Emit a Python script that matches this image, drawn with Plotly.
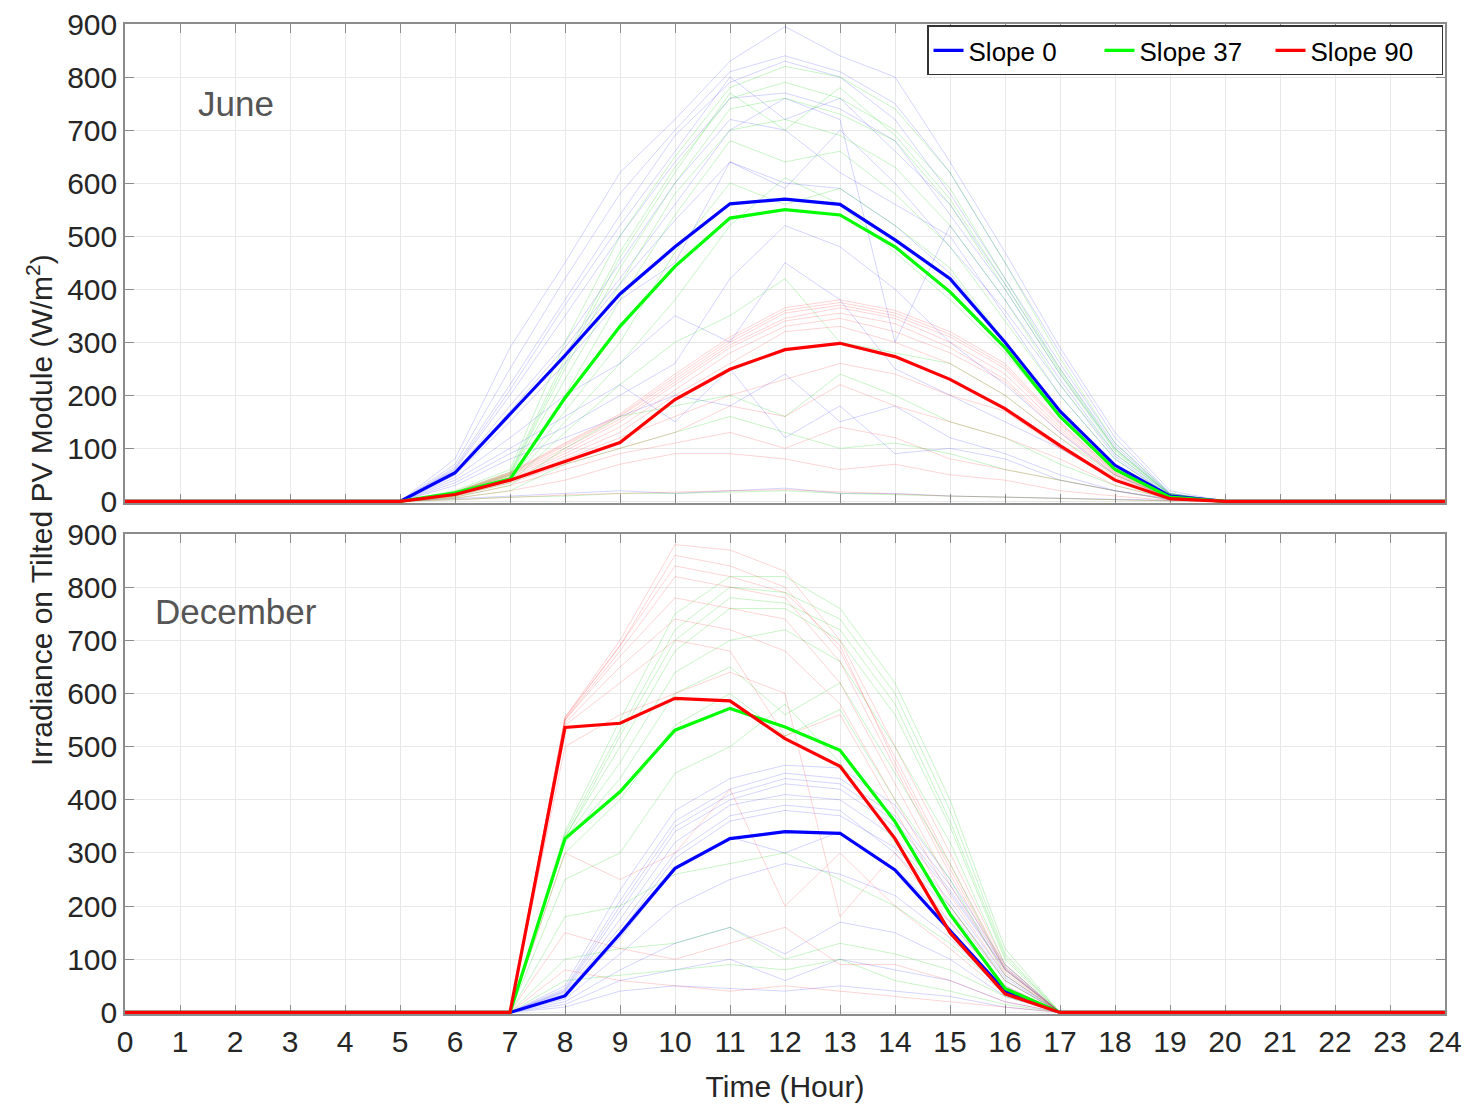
import plotly.graph_objects as go

# ---------------- data ----------------
hours = list(range(0, 25))
tick_labels = [str(h) for h in hours]

# June, hours 5..20 (zero elsewhere)
june_hours = list(range(5, 21))
june_mean_s0 = [0, 54, 165, 275, 391, 480, 561, 570, 560, 493, 420, 300, 170, 68, 10, 0]
june_mean_s37 = [0, 16, 42, 195, 330, 443, 534, 550, 540, 480, 395, 290, 160, 60, 8, 0]
june_mean_s90 = [0, 13, 40, 75, 111, 192, 249, 286, 298, 273, 230, 175, 105, 40, 5, 0]

june_days_s0 = [
    [0, 80, 290, 450, 620, 720, 830, 895, 840, 800, 640, 470, 290, 130, 20, 0],
    [0, 70, 250, 420, 580, 700, 810, 840, 810, 750, 620, 450, 280, 120, 15, 0],
    [0, 65, 220, 380, 540, 690, 790, 830, 800, 720, 580, 420, 260, 110, 15, 0],
    [0, 60, 200, 350, 500, 640, 760, 770, 740, 680, 540, 400, 240, 100, 12, 0],
    [0, 55, 180, 300, 450, 600, 720, 700, 620, 560, 500, 350, 200, 80, 10, 0],
    [0, 50, 150, 260, 380, 450, 640, 600, 590, 520, 430, 300, 170, 70, 10, 0],
    [0, 45, 120, 200, 260, 350, 300, 450, 380, 250, 200, 150, 100, 40, 5, 0],
    [0, 40, 100, 160, 220, 150, 250, 120, 180, 90, 100, 80, 40, 20, 5, 0],
    [0, 30, 80, 120, 160, 200, 180, 240, 150, 180, 120, 90, 50, 20, 3, 0],
    [0, 5, 10, 15, 20, 15, 20, 25, 15, 15, 10, 8, 5, 3, 1, 0],
    [0, 50, 170, 290, 420, 560, 700, 760, 720, 300, 520, 380, 230, 90, 12, 0],
    [0, 55, 160, 280, 410, 530, 640, 590, 700, 600, 480, 360, 220, 85, 10, 0],
    [0, 62, 210, 370, 520, 660, 800, 720, 760, 660, 560, 410, 250, 105, 14, 0],
    [0, 35, 90, 140, 200, 260, 420, 520, 480, 400, 300, 220, 130, 50, 6, 0],
]
june_days_s37 = [
    [0, 20, 60, 300, 500, 650, 780, 820, 800, 740, 620, 450, 270, 110, 15, 0],
    [0, 18, 55, 270, 470, 630, 760, 790, 760, 700, 590, 420, 250, 100, 14, 0],
    [0, 16, 50, 250, 440, 600, 740, 760, 730, 680, 560, 400, 240, 95, 13, 0],
    [0, 15, 48, 230, 410, 580, 700, 720, 690, 630, 520, 380, 220, 90, 12, 0],
    [0, 14, 45, 200, 380, 540, 680, 640, 660, 580, 480, 340, 200, 80, 10, 0],
    [0, 12, 40, 170, 300, 470, 600, 560, 590, 520, 440, 300, 170, 70, 9, 0],
    [0, 10, 35, 130, 220, 300, 350, 420, 300, 280, 260, 200, 120, 50, 7, 0],
    [0, 8, 30, 100, 160, 180, 200, 160, 240, 200, 150, 120, 70, 30, 5, 0],
    [0, 6, 20, 70, 100, 130, 160, 130, 100, 110, 90, 60, 40, 20, 3, 0],
    [0, 3, 8, 10, 15, 15, 18, 20, 15, 12, 10, 8, 5, 3, 1, 0],
    [0, 17, 52, 260, 460, 620, 770, 700, 780, 690, 570, 410, 245, 98, 13, 0],
    [0, 11, 38, 150, 260, 380, 520, 610, 560, 470, 380, 280, 160, 65, 8, 0],
]
june_days_s90 = [
    [0, 18, 55, 110, 165, 240, 310, 365, 380, 360, 320, 260, 150, 55, 8, 0],
    [0, 16, 52, 105, 160, 230, 300, 355, 370, 350, 310, 250, 145, 52, 7, 0],
    [0, 15, 50, 100, 155, 225, 295, 345, 365, 345, 300, 240, 140, 50, 7, 0],
    [0, 15, 48, 95, 150, 220, 290, 340, 355, 335, 290, 230, 135, 48, 6, 0],
    [0, 14, 45, 90, 140, 210, 280, 330, 345, 320, 280, 225, 130, 45, 6, 0],
    [0, 12, 40, 80, 120, 160, 200, 230, 260, 240, 200, 170, 100, 40, 5, 0],
    [0, 10, 35, 70, 100, 130, 180, 160, 220, 180, 150, 120, 80, 30, 4, 0],
    [0, 8, 30, 60, 90, 110, 130, 100, 140, 120, 80, 60, 40, 20, 3, 0],
    [0, 6, 20, 40, 70, 90, 90, 80, 60, 70, 50, 40, 20, 10, 2, 0],
    [0, 3, 8, 12, 15, 18, 20, 22, 18, 15, 10, 8, 5, 3, 1, 0],
    [0, 17, 53, 108, 162, 235, 305, 360, 375, 355, 315, 255, 148, 54, 8, 0],
    [0, 13, 42, 85, 130, 200, 260, 320, 330, 300, 260, 200, 120, 42, 5, 0],
]

# December, hours 7..17 (zero elsewhere)
dec_hours = list(range(7, 18))
dec_mean_s0 = [0, 31, 148, 271, 327, 340, 337, 268, 155, 40, 0]
dec_mean_s37 = [0, 327, 415, 531, 572, 537, 493, 359, 185, 45, 0]
dec_mean_s90 = [0, 536, 544, 591, 586, 515, 463, 327, 150, 35, 0]

dec_days_s0 = [
    [0, 50, 230, 380, 440, 465, 460, 390, 250, 90, 0],
    [0, 45, 210, 360, 420, 450, 440, 370, 240, 85, 0],
    [0, 40, 190, 340, 400, 430, 420, 350, 225, 80, 0],
    [0, 38, 175, 320, 390, 410, 400, 330, 210, 70, 0],
    [0, 35, 160, 300, 370, 390, 380, 300, 190, 60, 0],
    [0, 30, 140, 270, 330, 300, 340, 270, 170, 50, 0],
    [0, 25, 110, 200, 250, 280, 260, 220, 140, 40, 0],
    [0, 20, 80, 130, 160, 110, 170, 150, 100, 30, 0],
    [0, 15, 60, 80, 100, 60, 100, 80, 60, 20, 0],
    [0, 10, 40, 50, 45, 40, 50, 40, 30, 10, 0],
    [0, 42, 200, 350, 410, 440, 430, 360, 230, 82, 0],
    [0, 33, 150, 290, 360, 380, 370, 310, 200, 65, 0],
]
dec_days_s37 = [
    [0, 340, 550, 750, 820, 820, 760, 620, 400, 120, 0],
    [0, 335, 530, 720, 800, 790, 740, 600, 380, 110, 0],
    [0, 330, 500, 680, 760, 760, 700, 560, 350, 100, 0],
    [0, 325, 470, 640, 700, 720, 660, 500, 320, 90, 0],
    [0, 320, 440, 600, 650, 560, 620, 450, 280, 80, 0],
    [0, 300, 400, 540, 600, 520, 570, 400, 250, 70, 0],
    [0, 250, 300, 450, 500, 580, 470, 320, 200, 60, 0],
    [0, 180, 200, 260, 280, 300, 250, 200, 130, 40, 0],
    [0, 100, 120, 130, 160, 100, 130, 110, 80, 30, 0],
    [0, 60, 70, 80, 90, 80, 100, 60, 40, 15, 0],
    [0, 328, 520, 700, 780, 770, 720, 580, 360, 105, 0],
]
dec_days_s90 = [
    [0, 555, 700, 880, 870, 830, 700, 500, 300, 90, 0],
    [0, 555, 690, 860, 840, 800, 680, 480, 280, 85, 0],
    [0, 550, 680, 820, 800, 780, 660, 460, 260, 80, 0],
    [0, 550, 670, 780, 760, 740, 620, 430, 240, 75, 0],
    [0, 545, 650, 740, 720, 680, 580, 400, 220, 70, 0],
    [0, 540, 620, 700, 680, 520, 560, 380, 200, 60, 0],
    [0, 500, 560, 600, 640, 600, 180, 300, 170, 50, 0],
    [0, 300, 250, 300, 420, 200, 300, 200, 120, 35, 0],
    [0, 150, 120, 100, 130, 160, 90, 90, 60, 20, 0],
    [0, 80, 60, 50, 40, 50, 40, 30, 20, 10, 0],
    [0, 552, 690, 840, 820, 790, 690, 470, 270, 82, 0],
]

series_names = ["Slope 0", "Slope 37", "Slope 90"]
series_colors = ["#0000FF", "#00FF00", "#FF0000"]
faint_colors = ["rgba(0,0,255,0.17)", "rgba(0,210,0,0.22)", "rgba(255,0,0,0.17)"]


def full_day(sub_hours, vals):
    m = dict(zip(sub_hours, vals))
    return [m.get(h, 0) for h in hours]


fig = go.Figure()

panels = [
    ("x", "y", june_hours, [june_days_s0, june_days_s37, june_days_s90],
     [june_mean_s0, june_mean_s37, june_mean_s90], True),
    ("x2", "y2", dec_hours, [dec_days_s0, dec_days_s37, dec_days_s90],
     [dec_mean_s0, dec_mean_s37, dec_mean_s90], False),
]

for xa, ya, sub_h, days_sets, means, show_leg in panels:
    for i, days in enumerate(days_sets):
        for d in days:
            fig.add_trace(go.Scatter(x=hours, y=full_day(sub_h, d), mode="lines",
                                     line=dict(color=faint_colors[i], width=1),
                                     showlegend=False, hoverinfo="skip",
                                     xaxis=xa, yaxis=ya))
    for i, m in enumerate(means):
        fig.add_trace(go.Scatter(x=hours, y=full_day(sub_h, m), mode="lines",
                                 name=series_names[i],
                                 line=dict(color=series_colors[i], width=3.2),
                                 showlegend=show_leg,
                                 xaxis=xa, yaxis=ya))

FONT = "Liberation Sans, Arial, sans-serif"
tickfont = dict(family=FONT, size=30, color="#262626")

axis_common = dict(
    range=[0, 24], tickmode="array", tickvals=hours,
    showgrid=True, gridcolor="#E8E8E8", gridwidth=1,
    showline=True, linecolor="#8C8C8C", linewidth=1.5, mirror="ticks",
    ticks="inside", ticklen=9, tickcolor="#8C8C8C", layer="below traces",
    zeroline=False, automargin=False, tickfont=tickfont, ticklabeloverflow="allow",
)
yaxis_common = dict(
    range=[-3, 900], tickmode="array", tickvals=list(range(0, 901, 100)),
    showgrid=True, gridcolor="#E8E8E8", gridwidth=1,
    showline=True, linecolor="#8C8C8C", linewidth=1.5, mirror="ticks",
    ticks="inside", ticklen=9, tickcolor="#8C8C8C", layer="below traces",
    zeroline=False, automargin=False, tickfont=tickfont, ticklabeloverflow="allow",
)

fig.update_layout(
    width=1459, height=1103,
    margin=dict(l=117, r=22, t=16, b=97, autoexpand=False),
    paper_bgcolor="white", plot_bgcolor="white",
    font=dict(family=FONT, color="#262626"),
    xaxis=dict(axis_common, anchor="y", domain=[0, 1], showticklabels=False),
    yaxis=dict(yaxis_common, anchor="x", domain=[0.5162, 1.0]),
    xaxis2=dict(axis_common, anchor="y2", domain=[0, 1], ticktext=tick_labels,
                title=dict(text="Time (Hour)", font=dict(family=FONT, size=30, color="#262626"),
                           standoff=19)),
    yaxis2=dict(yaxis_common, anchor="x2", domain=[0, 0.4848]),
    legend=dict(orientation="h", x=0.9985, y=0.9985, xanchor="right", yanchor="top",
                bgcolor="white", bordercolor="#333333", borderwidth=1.5,
                font=dict(family=FONT, size=26, color="#000000"),
                entrywidth=126, entrywidthmode="pixels", tracegroupgap=0),
    showlegend=True,
    annotations=[
        dict(text="June", xref="x", yref="y", x=2.02, y=751, showarrow=False,
             font=dict(family=FONT, size=35, color="#555555")),
        dict(text="December", xref="x2", yref="y2", x=2.02, y=754, showarrow=False,
             font=dict(family=FONT, size=35, color="#555555")),
        dict(text="Irradiance on Tilted PV Module (W/m<sup>2</sup>)", xref="paper", yref="paper",
             x=-0.0644, y=0.509, textangle=-90, showarrow=False, xanchor="center", yanchor="middle",
             font=dict(family=FONT, size=30, color="#262626")),
    ],
)

fig.write_html("out.html")
